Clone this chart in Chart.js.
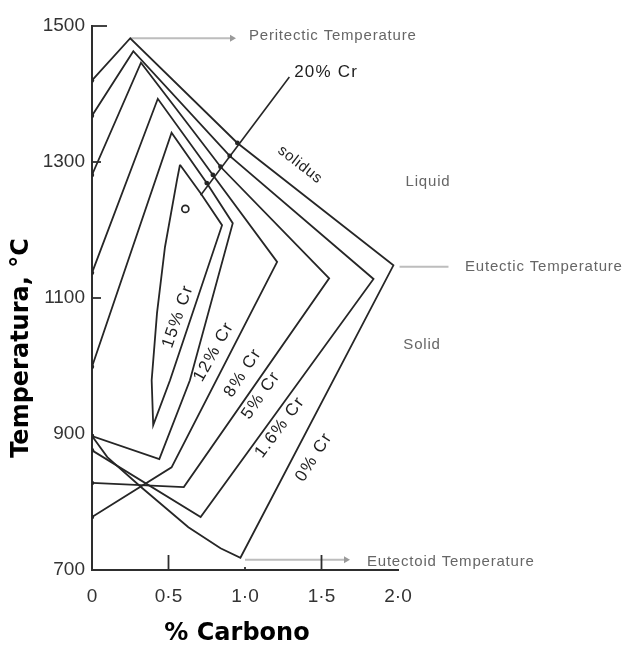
<!DOCTYPE html>
<html>
<head>
<meta charset="utf-8">
<script src="https://cdn.jsdelivr.net/npm/chart.js@4.4.1/dist/chart.umd.min.js"></script>
<style>
  html, body { margin: 0; padding: 0; background: #ffffff; }
  canvas { display: block; }
</style>
</head>
<body>
<canvas id="diagram" width="627" height="645" style="width:627px;height:645px"></canvas>
<script>
// ---- axis ticks ----
const carbonTicks = [0, 0.5, 1.0, 1.5, 2.0];
const carbonTickLabels = ['0', '0·5', '1·0', '1·5', '2·0'];
const tempTicks = [700, 900, 1100, 1300, 1500];

// ---- gamma-loop outlines (% carbon, temperature °C) ----
const cr0C  = [0, 0.25, 0.95, 1.97, 0.97, 0.84, 0.63, 0.32, 0.10, 0];
const cr0T  = [1420, 1482, 1328, 1148, 718, 732, 763, 822, 866, 897];

const cr16C = [0, 0.27, 0.90, 1.84, 0.71, 0];
const cr16T = [1368, 1463, 1309, 1128, 778, 876];

const cr5C  = [0, 0.32, 0.84, 1.55, 0.60, 0];
const cr5T  = [1281, 1446, 1293, 1129, 822, 828];

const cr8C  = [0, 0.43, 0.79, 1.21, 0.52, 0];
const cr8T  = [1137, 1393, 1281, 1153, 851, 778];

const cr12C = [0, 0.52, 0.75, 0.92, 0.64, 0.44, 0];
const cr12T = [999, 1343, 1269, 1210, 979, 863, 897];

const cr15C = [0.575, 0.71, 0.85, 0.51, 0.40, 0.39, 0.425, 0.477, 0.556, 0.575];
const cr15T = [1296, 1254, 1207, 979, 913, 979, 1078, 1175, 1274, 1296];

// 20 % Cr: a single point with its leader line and crossings
const cr20C = [0.61];
const cr20T = [1231];
const leaderC = [1.29, 0.71];
const leaderT = [1425, 1251];
const crossC = [0.95, 0.90, 0.84, 0.79, 0.75];
const crossT = [1328, 1309, 1293, 1281, 1269];

// ---- invariant temperatures (arrows) ----
const peritecticC = [0.25, 0.915];
const peritecticT = [1482, 1482];
const eutecticC   = [2.01, 2.33];
const eutecticT   = [1146, 1146];
const eutectoidC  = [1.00, 1.66];
const eutectoidT  = [715, 715];

// ---- helpers ----
const pts = (cs, ts) => cs.map((c, i) => ({ x: c, y: ts[i] }));
const LINE = '#262626';
const AXIS = '#2e2e2e';
const ARROW = '#bdbdbd';
const GREY_TEXT = '#666666';
const SANS = "'Liberation Sans', Arial, sans-serif";

function loop(cs, ts) {
  return {
    data: pts(cs, ts),
    showLine: true,
    borderColor: LINE,
    borderWidth: 1.8,
    backgroundColor: LINE,
    pointRadius: c => (c.raw && c.raw.x === 0 ? 2.2 : 0),
    pointBorderWidth: 0,
    tension: 0
  };
}
function arrow(cs, ts) {
  return {
    data: pts(cs, ts),
    showLine: true,
    clip: false,
    borderColor: ARROW,
    borderWidth: 2,
    backgroundColor: '#9a9a9a',
    pointStyle: 'triangle',
    rotation: 90,
    pointRadius: [0, 4],
    pointBorderWidth: 0
  };
}

const datasets = [
  loop(cr0C, cr0T),
  loop(cr16C, cr16T),
  loop(cr5C, cr5T),
  loop(cr8C, cr8T),
  loop(cr12C, cr12T),
  loop(cr15C, cr15T),
  { data: pts(leaderC, leaderT), showLine: true, borderColor: LINE, borderWidth: 1.6, pointRadius: 0 },
  { data: pts(crossC, crossT), showLine: false, pointRadius: 2.4, backgroundColor: LINE, pointBorderWidth: 0 },
  { data: pts(cr20C, cr20T), showLine: false, pointRadius: 3.5, pointStyle: 'circle',
    backgroundColor: 'rgba(0,0,0,0)', borderColor: LINE, pointBorderWidth: 1.7 },
  arrow(peritecticC, peritecticT),
  arrow(eutecticC, eutecticT),
  arrow(eutectoidC, eutectoidT)
];

// text placed in data coordinates
const notes = [
  { text: '20% Cr', c: 1.53, t: 1432, rot: 0, size: 17, color: '#1e1e1e', sp: 1.2 },
  { text: 'solidus', c: 1.36, t: 1296, rot: 38, size: 15, color: '#1e1e1e', sp: 0.8 },
  { text: 'Liquid', c: 2.196, t: 1271, rot: 0, size: 15, color: GREY_TEXT, sp: 0.8 },
  { text: 'Solid', c: 2.157, t: 1031, rot: 0, size: 15, color: GREY_TEXT, sp: 0.8 },
  { text: '15% Cr', c: 0.562, t: 1073, rot: -71, size: 17, color: '#1e1e1e', sp: 1.5 },
  { text: '12% Cr', c: 0.797, t: 1021, rot: -61, size: 17, color: '#1e1e1e', sp: 1.5 },
  { text: '8% Cr', c: 0.987, t: 990, rot: -57, size: 17, color: '#1e1e1e', sp: 1.5 },
  { text: '5% Cr', c: 1.105, t: 957, rot: -55, size: 17, color: '#1e1e1e', sp: 1.5 },
  { text: '1.6% Cr', c: 1.229, t: 910, rot: -53, size: 17, color: '#1e1e1e', sp: 1.5 },
  { text: '0% Cr', c: 1.451, t: 866, rot: -58, size: 17, color: '#1e1e1e', sp: 1.5 },
  { text: 'Peritectic Temperature', c: 1.026, t: 1485, rot: 0, size: 15, color: GREY_TEXT, sp: 0.8, align: 'left' },
  { text: 'Eutectic Temperature', c: 2.438, t: 1146, rot: 0, size: 15, color: GREY_TEXT, sp: 0.8, align: 'left' },
  { text: 'Eutectoid Temperature', c: 1.797, t: 712, rot: 0, size: 15, color: GREY_TEXT, sp: 0.8, align: 'left' }
];

// short tick marks drawn inside the plot frame
const innerTicksT = [{ v: 1500, len: 15 }, { v: 1300, len: 9 }, { v: 1100, len: 9 }];
const innerTicksC = [{ v: 0.5, len: 15 }, { v: 1.5, len: 15 }, { v: 1.0, len: 3 }];

const annotate = {
  id: 'annotate',
  afterDraw(chart) {
    const { ctx, scales: { x, y } } = chart;
    const x0 = x.getPixelForValue(0);
    const y0 = y.getPixelForValue(700);
    ctx.save();
    ctx.strokeStyle = AXIS;
    ctx.lineWidth = 1.8;
    innerTicksT.forEach(k => {
      const py = y.getPixelForValue(k.v);
      ctx.beginPath(); ctx.moveTo(x0, py); ctx.lineTo(x0 + k.len, py); ctx.stroke();
    });
    innerTicksC.forEach(k => {
      const px = x.getPixelForValue(k.v);
      ctx.beginPath(); ctx.moveTo(px, y0); ctx.lineTo(px, y0 - k.len); ctx.stroke();
    });

    notes.forEach(n => {
      ctx.save();
      ctx.translate(x.getPixelForValue(n.c), y.getPixelForValue(n.t));
      ctx.rotate(n.rot * Math.PI / 180);
      ctx.font = `${n.size}px ${SANS}`;
      ctx.fillStyle = n.color;
      ctx.textAlign = n.align || 'center';
      ctx.textBaseline = 'middle';
      ctx.letterSpacing = `${n.sp}px`;
      ctx.fillText(n.text, 0, 0);
      ctx.restore();
    });

    // axis titles
    ctx.fillStyle = '#000000';
    ctx.font = "bold 24px 'DejaVu Sans', Verdana, sans-serif";
    ctx.textAlign = 'center';
    ctx.textBaseline = 'alphabetic';
    ctx.fillText('% Carbono', 237, 640);
    ctx.save();
    ctx.translate(28, 348);
    ctx.rotate(-Math.PI / 2);
    ctx.fillText('Temperatura, °C', 0, 0);
    ctx.restore();
    ctx.restore();
  }
};

new Chart(document.getElementById('diagram'), {
  type: 'scatter',
  data: { datasets },
  options: {
    responsive: false,
    animation: false,
    devicePixelRatio: 1,
    layout: { padding: { top: 26, right: 229, bottom: 0, left: 0 } },
    plugins: { legend: { display: false }, tooltip: { enabled: false } },
    scales: {
      x: {
        type: 'linear', min: 0, max: 2,
        afterBuildTicks: s => { s.ticks = carbonTicks.map(v => ({ value: v })); },
        afterFit: s => { s.height = 75; },
        grid: { display: false, drawTicks: false },
        border: { display: true, color: AXIS, width: 2 },
        ticks: {
          padding: 15, color: '#333', autoSkip: false, maxRotation: 0,
          font: { family: SANS, size: 19 },
          callback: (v, i) => carbonTickLabels[i]
        }
      },
      y: {
        type: 'linear', min: 700, max: 1500,
        afterBuildTicks: s => { s.ticks = tempTicks.map(v => ({ value: v })); },
        afterFit: s => { s.width = 92; },
        grid: { display: false, drawTicks: false },
        border: { display: true, color: AXIS, width: 2 },
        ticks: {
          padding: 7, color: '#333',
          font: { family: SANS, size: 19 },
          callback: v => String(v)
        }
      }
    }
  },
  plugins: [annotate]
});
</script>
</body>
</html>
